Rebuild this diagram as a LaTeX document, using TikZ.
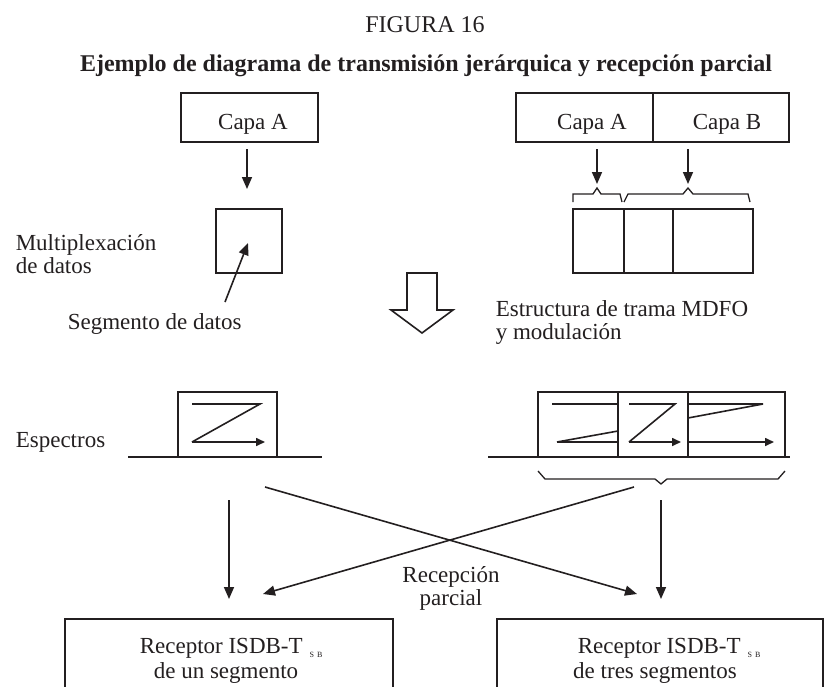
\documentclass[tikz,border=0pt]{standalone}
\usepackage{fontspec}
\setmainfont{Liberation Serif}
\usetikzlibrary{arrows.meta}
\definecolor{ink}{RGB}{35,31,32}
\begin{document}
\begin{tikzpicture}[x=1pt,y=-1pt,line width=1.6pt,
  box/.style={draw=ink,line width=1.6pt,inner sep=0pt},
  txt/.style={inner sep=0pt,text=ink,font=\fontsize{23}{23}\selectfont},
  ttl/.style={inner sep=0pt,text=ink,font=\fontsize{24}{24}\selectfont},
  arr/.style={draw=ink,line width=1.6pt,-{Triangle[length=12pt,width=10pt]}},
  zarr/.style={draw=ink,line width=1.6pt,-{Triangle[length=9pt,width=8pt]}},
  ln/.style={draw=ink,line width=1.6pt}]
\useasboundingbox (0,0) rectangle (828,686);
% titles
\node[ttl,anchor=base] (fig) at (425,32) {FIGURA 16};
\node[ttl,anchor=base,font=\fontsize{24}{24}\selectfont\bfseries] (title) at (426,71) {Ejemplo de diagrama de transmisión jerárquica y recepción parcial};
% left top box
\node[box,minimum width=137pt,minimum height=49pt] (capaAl) at (249.5,117.5) {};
\node[txt,anchor=base] (capaAltxt) at (253,129) {Capa A};
% right top boxes
\node[box,minimum width=137pt,minimum height=49pt] (capaAr) at (584.5,117.5) {};
\node[box,minimum width=136pt,minimum height=49pt] (capaB) at (721,117.5) {};
\node[txt,anchor=base] (capaArtxt) at (592,129) {Capa A};
\node[txt,anchor=base] (capaBtxt) at (727,129) {Capa B};
% data segment square
\node[box,minimum width=66pt,minimum height=64pt] (seg) at (249,241) {};
\coordinate (a1s) at (247,149);
\coordinate (a1e) at (247,189);
\draw[arr] (a1s) -- (a1e);
% frame cells
\node[box,minimum width=51pt,minimum height=64pt] (fr1) at (598.5,241) {};
\node[box,minimum width=49pt,minimum height=64pt] (fr2) at (648.5,241) {};
\node[box,minimum width=80pt,minimum height=64pt] (fr3) at (713,241) {};
\coordinate (a2s) at (597,149);
\coordinate (a2e) at (597,184);
\coordinate (a3s) at (688,149);
\coordinate (a3e) at (688,184);
\draw[arr] (a2s) -- (a2e);
\draw[arr] (a3s) -- (a3e);
% braces above frame
\draw[ln,line width=1.3pt] (573,202) -- (573,194) -- (593,194) -- (597,188) -- (601,194) -- (620,194) -- (622,202);
\draw[ln,line width=1.3pt] (624,202) -- (628,194) -- (683,194) -- (688,188) -- (693,194) -- (748,194) -- (750,202);
% labels left
\node[txt,anchor=base west] (mux1) at (15,250) {Multiplexación};
\node[txt,anchor=base west] (mux2) at (15,273) {de datos};
\node[txt,anchor=base west] (segtxt) at (67,329) {Segmento de datos};
\coordinate (a4s) at (225,302);
\coordinate (a4e) at (248,243);
\draw[arr] (a4s) -- (a4e);
\node[txt,anchor=base west] (est1) at (495,316) {Estructura de trama MDFO};
\node[txt,anchor=base west] (est2) at (495,339) {y modulación};
% hollow arrow
\draw[ln,fill=white] (407,273) -- (437,273) -- (437,310) -- (453,310) -- (422,333) -- (391,310) -- (407,310) -- cycle;
% spectra
\node[txt,anchor=base west] (esp) at (15,447) {Espectros};
\draw[ln] (128,457) -- (322,457);
\node[box,minimum width=99pt,minimum height=65pt] (sp1) at (227.5,424.5) {};
\draw[ln] (192,404) -- (260,404) -- (192,442);
\draw[zarr] (192,442) -- (265,442);
\draw[ln] (488,457) -- (790,457);
\node[box,minimum width=80pt,minimum height=65pt] (sp2a) at (578,424.5) {};
\node[box,minimum width=70pt,minimum height=65pt] (sp2b) at (653,424.5) {};
\node[box,minimum width=97pt,minimum height=65pt] (sp2c) at (736.5,424.5) {};
\draw[ln] (552,404) -- (618,404);
\draw[ln] (557,442) -- (618,442);
\draw[ln] (557,442) -- (618,431);
\draw[ln] (629,404) -- (675,404) -- (629,442);
\draw[zarr] (629,442) -- (681,442);
\draw[ln] (688,418) -- (763,404) -- (688,404);
\draw[zarr] (688,442) -- (774,442);
% bottom brace
\draw[ln,line width=1.3pt] (538,471) -- (545,479) -- (655,479) -- (661,484) -- (667,479) -- (778,479) -- (785,471);
% connectors to receivers
\coordinate (v1s) at (229,500);
\coordinate (v1e) at (229,599);
\coordinate (v2s) at (661,500);
\coordinate (v2e) at (661,599);
\coordinate (c1s) at (265,487);
\coordinate (c1e) at (637,594);
\coordinate (c2s) at (634,487);
\coordinate (c2e) at (263,594);
\draw[arr] (v1s) -- (v1e);
\draw[arr] (v2s) -- (v2e);
\draw[arr] (c1s) -- (c1e);
\draw[arr] (c2s) -- (c2e);
\node[txt,anchor=base] (rp1) at (451,582) {Recepción};
\node[txt,anchor=base] (rp2) at (451,605) {parcial};
% receivers
\draw[ln] (65,690) -- (65,619) -- (393,619) -- (393,690);
\draw[ln] (497,690) -- (497,619) -- (823,619) -- (823,690);
\node[txt,anchor=base west] (rx1a) at (139,653) {Receptor ISDB-T\hspace{7pt}\raisebox{-4pt}{\fontsize{8}{8}\selectfont S\hspace{3pt}B}};
\node[txt,anchor=base] (rx1b) at (226,678) {de un segmento};
\node[txt,anchor=base west] (rx2a) at (577,653) {Receptor ISDB-T\hspace{7pt}\raisebox{-4pt}{\fontsize{8}{8}\selectfont S\hspace{3pt}B}};
\node[txt,anchor=base] (rx2b) at (655,678) {de tres segmentos};
\end{tikzpicture}
\end{document}
